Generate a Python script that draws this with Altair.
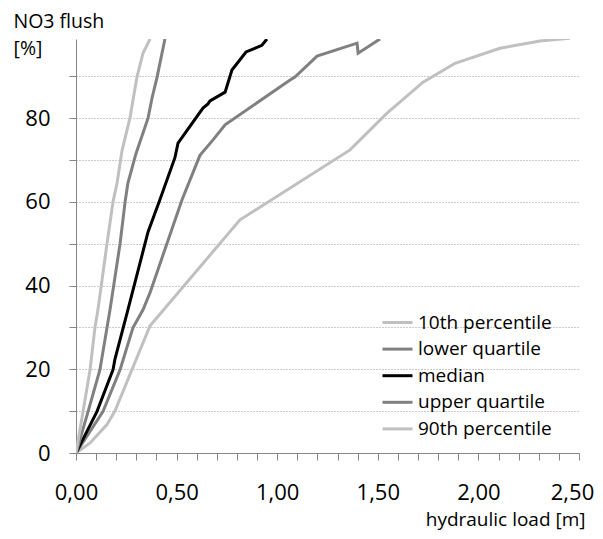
import altair as alt
import pandas as pd

series_names = ["10th percentile", "lower quartile", "median", "upper quartile", "90th percentile"]
series_colors = ["#c0c0c0", "#808080", "#000000", "#808080", "#c0c0c0"]

p10_x = [0, 0.07, 0.154, 0.194, 0.368, 0.815, 1.362, 1.546, 1.725, 1.884, 2.107, 2.306, 2.455]
p10_y = [0, 2.4, 6.8, 10.1, 30.4, 55.7, 72.4, 81.2, 88.6, 93.1, 96.7, 98.4, 99.1]

lq_x = [0, 0.134, 0.219, 0.283, 0.333, 0.368, 0.527, 0.616, 0.681, 0.741, 1.064, 1.088, 1.198, 1.397, 1.402, 1.511]
lq_y = [0, 9.9, 19.9, 29.9, 34.2, 38.3, 60.5, 71.1, 74.8, 78.4, 89.1, 89.8, 94.8, 97.9, 95.5, 98.9]

med_x = [0, 0.104, 0.184, 0.194, 0.254, 0.358, 0.417, 0.492, 0.507, 0.631, 0.656, 0.666, 0.741, 0.775, 0.845, 0.924, 0.949]
med_y = [0, 9.9, 19.9, 22.5, 33.5, 52.8, 60.5, 70.6, 74.0, 82.4, 83.4, 84.1, 86.2, 91.5, 95.8, 97.4, 98.9]

uq_x = [0, 0.06, 0.119, 0.154, 0.169, 0.219, 0.244, 0.258, 0.298, 0.358, 0.378, 0.403, 0.442]
uq_y = [0, 9.9, 19.9, 29.9, 34.2, 50.0, 60.0, 64.5, 71.5, 80.0, 84.8, 89.8, 98.9]

p90_x = [0, 0.035, 0.07, 0.094, 0.109, 0.154, 0.184, 0.204, 0.229, 0.268, 0.303, 0.333, 0.368]
p90_y = [0, 9.9, 19.9, 29.9, 34.2, 50.0, 60.0, 64.5, 72.3, 80.0, 89.8, 95.5, 98.9]

x_ticks = [round(i * 0.1, 1) for i in range(26)]
y_ticks = list(range(0, 100, 10))

rows = []
for name, xs, ys in zip(series_names,
                        [p10_x, lq_x, med_x, uq_x, p90_x],
                        [p10_y, lq_y, med_y, uq_y, p90_y]):
    for i, (xv, yv) in enumerate(zip(xs, ys)):
        rows.append({"series": name, "load": xv, "flush": yv, "idx": i})
df = pd.DataFrame(rows)

FONT = "Open Sans"

chart = alt.Chart(df).mark_line(strokeWidth=3, clip=True).encode(
    x=alt.X(
        "load:Q",
        scale=alt.Scale(domain=[0, 2.5], nice=False, zero=True),
        axis=alt.Axis(
            values=x_ticks,
            labelExpr="abs(datum.value*2 - round(datum.value*2)) < 0.001 ? replace(format(datum.value, '.2f'), '.', ',') : ''",
            grid=False,
            domainColor="#868686",
            tickColor="#868686",
            tickSize=7,
            labelPadding=22,
            labelOffset={"condition": {"test": "datum.value > 2.45", "value": -7}, "value": 0},
            labelFont=FONT,
            labelFontSize=22,
            labelColor="#000000",
            labelOverlap=False,
            labelFlush=False,
            title="hydraulic load [m]",
            titleFont=FONT,
            titleFontSize=19,
            titleFontWeight="normal",
            titleColor="#000000",
            titleAnchor="end",
            titleAlign="right",
            titleBaseline="alphabetic",
            titleX=509,
            titleY=72,
        ),
    ),
    y=alt.Y(
        "flush:Q",
        scale=alt.Scale(domain=[0, 98.9], nice=False, zero=True),
        axis=alt.Axis(
            values=y_ticks,
            labelExpr="datum.value % 20 == 0 ? datum.value : ''",
            grid=True,
            gridColor="#999999",
            gridDash=[1, 2],
            gridWidth=1,
            domainColor="#868686",
            tickColor="#868686",
            tickSize=7,
            labelPadding=19,
            labelFont=FONT,
            labelFontSize=22,
            labelColor="#000000",
            labelOverlap=False,
            labelFlush=False,
            title=["NO3 flush", "[%]"],
            titleFont=FONT,
            titleFontSize=19.5,
            titleFontWeight="normal",
            titleColor="#000000",
            titleAngle=0,
            titleAlign="left",
            titleBaseline="alphabetic",
            titleLineHeight=27,
            titleX=-63,
            titleY=-12,
        ),
    ),
    color=alt.Color(
        "series:N",
        scale=alt.Scale(domain=series_names, range=series_colors),
        legend=alt.Legend(
            title=None,
            orient="none",
            legendX=312,
            legendY=274,
            direction="vertical",
            symbolType="M-2,0H2",
            symbolSize=225,
            symbolStrokeWidth=3,
            labelOffset=11,
            rowPadding=6.6,
            padding=0,
            labelFont=FONT,
            labelFontSize=19,
            labelColor="#000000",
            labelLimit=300,
        ),
    ),
    order=alt.Order("idx:Q"),
).properties(
    width=503,
    height=414,
    autosize=alt.AutoSizeParams(type="none"),
    padding={"left": 68, "top": 31, "right": 16, "bottom": 77},
).configure_view(stroke=None)

chart.save("out.html", embed_options={"renderer": "svg", "actions": False})
